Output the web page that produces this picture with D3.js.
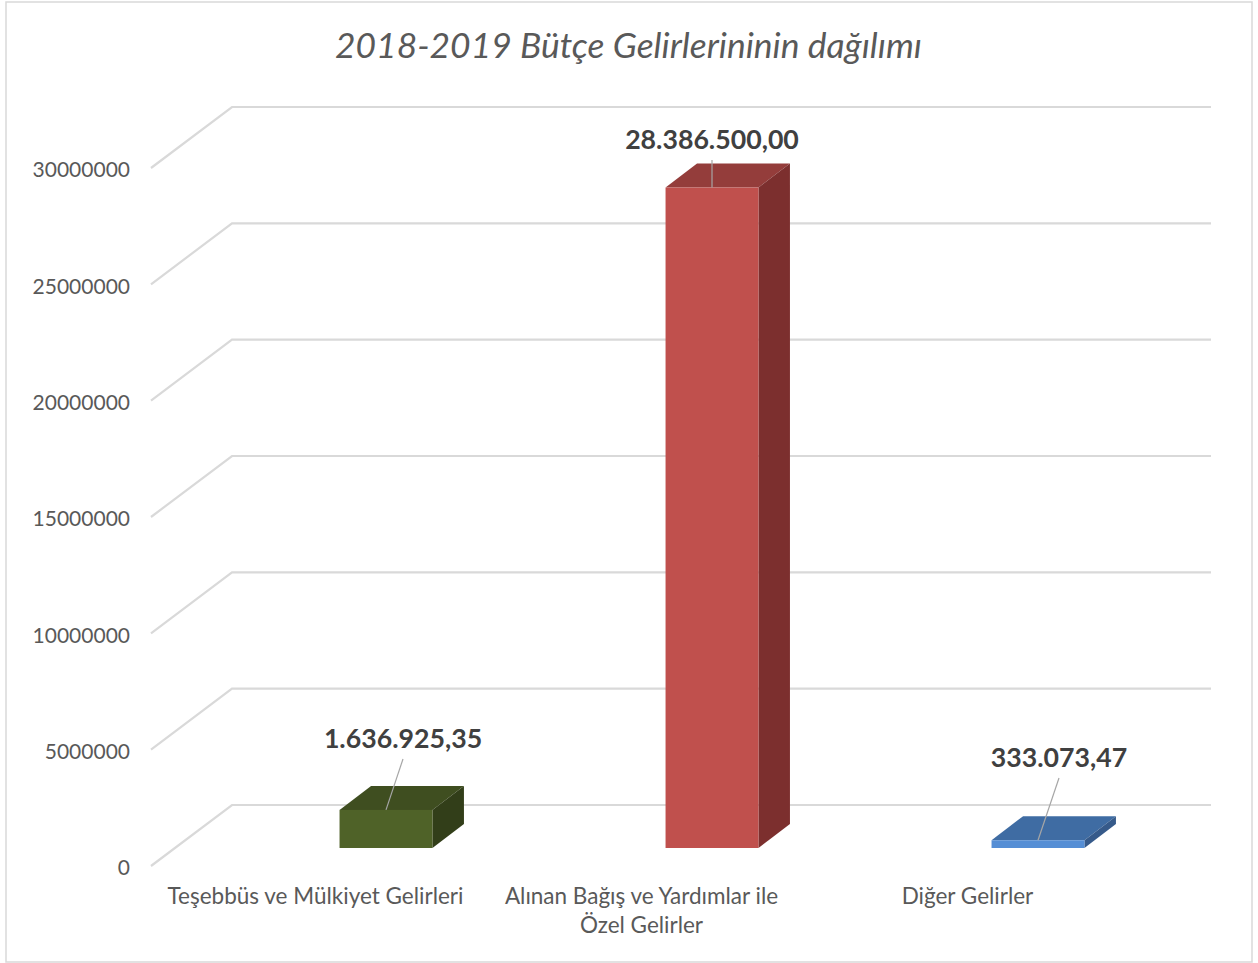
<!DOCTYPE html>
<html>
<head>
<meta charset="utf-8">
<script src="https://cdn.jsdelivr.net/npm/d3@7"></script>
<style>
  html, body { margin: 0; background: #fff; }
  svg { display: block; font-family: Lato, sans-serif; }
</style>
</head>
<body>
<svg id="chart" width="1258" height="963"></svg>
<script>
const title = "2018-2019 Bütçe Gelirlerininin dağılımı";
const categories = ["Teşebbüs ve Mülkiyet Gelirleri", "Alınan Bağış ve Yardımlar ile|Özel Gelirler", "Diğer Gelirler"];
const values = [1636925.35, 28386500, 333073.47];
const valueLabels = ["1.636.925,35", "28.386.500,00", "333.073,47"];
const yTicks = [0, 5000000, 10000000, 15000000, 20000000, 25000000, 30000000];
const frontColors = ["#4f6228", "#c0504d", "#558ed5"];
const topColors = ["#3f4e20", "#943d3b", "#3f6ca3"];
const sideColors = ["#323e19", "#7c2f2e", "#365a8a"];

const svg = d3.select("#chart");

// floor-to-back wall shift of the fake 3d box, and the bars' own depth
const wallDx = 81, wallDy = -61;
const barDx = 31.5, barDy = -24;
const barBase = 848;

let y = d3.scaleLinear().domain([0, 30000000]).range([866, 168]);
let barHeight = (v) => y(0) - y(v);

// the bars sit further back than the axis labels
let xLabels = d3.scaleBand().domain(categories).range([152.5, 1130.5]);
let xBars = d3.scaleBand().domain(categories).range([223, 1201]).paddingInner(0.715).paddingOuter(0.3575);

svg.append("rect")
  .attr("x", 6).attr("y", 2)
  .attr("width", 1246).attr("height", 960)
  .attr("fill", "#fff")
  .attr("stroke", "#d9d9d9")
  .attr("stroke-width", 1.5);

svg.append("text")
  .attr("x", 628.5).attr("y", 58)
  .attr("text-anchor", "middle")
  .attr("font-size", 35.4)
  .attr("font-style", "italic")
  .attr("fill", "#595959")
  .text(title);

svg.append("g")
  .attr("fill", "none")
  .attr("stroke", "#d9d9d9")
  .attr("stroke-width", 2.2)
  .selectAll("path")
  .data(yTicks)
  .join("path")
  .attr("d", (d) => {
    const p = d3.path();
    p.moveTo(151, y(d));
    p.lineTo(151 + wallDx, y(d) + wallDy);
    p.lineTo(1211, y(d) + wallDy);
    return p.toString();
  });

const yAxis = svg.append("g")
  .attr("transform", "translate(130,0)")
  .call(d3.axisLeft(y).tickValues(yTicks).tickFormat(d3.format("d")).tickSize(0).tickPadding(0));
yAxis.select(".domain").remove();
yAxis.selectAll("text")
  .attr("dy", "0.42em")
  .attr("font-family", "Lato, sans-serif")
  .attr("font-size", 21)
  .attr("fill", "#595959");

const bars = svg.append("g")
  .selectAll("g")
  .data(categories)
  .join("g");

bars.append("path")
  .attr("fill", (d, i) => topColors[i])
  .attr("d", (d, i) => {
    const x = xBars(d), w = xBars.bandwidth(), t = barBase - barHeight(values[i]);
    return `M${x},${t}l${barDx},${barDy}h${w}l${-barDx},${-barDy}Z`;
  });

bars.append("path")
  .attr("fill", (d, i) => sideColors[i])
  .attr("d", (d, i) => {
    const x = xBars(d) + xBars.bandwidth(), t = barBase - barHeight(values[i]);
    return `M${x},${t}l${barDx},${barDy}V${barBase + barDy}L${x},${barBase}Z`;
  });

bars.append("rect")
  .attr("x", (d) => xBars(d))
  .attr("y", (d, i) => barBase - barHeight(values[i]))
  .attr("width", xBars.bandwidth())
  .attr("height", (d, i) => barHeight(values[i]))
  .attr("fill", (d, i) => frontColors[i]);

// label positions relative to the bar's front top centre
const labelDx = [17, 0, 21];
const labelBaseline = [748, 149, 767];
const leaderEnd = [759, 160, 778];

bars.append("line")
  .attr("x1", (d) => xBars(d) + xBars.bandwidth() / 2)
  .attr("y1", (d, i) => barBase - barHeight(values[i]))
  .attr("x2", (d, i) => xBars(d) + xBars.bandwidth() / 2 + labelDx[i])
  .attr("y2", (d, i) => leaderEnd[i])
  .attr("stroke", "#a6a6a6")
  .attr("stroke-width", 1.2);

bars.append("text")
  .attr("x", (d, i) => xBars(d) + xBars.bandwidth() / 2 + labelDx[i])
  .attr("y", (d, i) => labelBaseline[i])
  .attr("text-anchor", "middle")
  .attr("font-size", 26.7)
  .attr("font-weight", 700)
  .attr("fill", "#404040")
  .text((d, i) => valueLabels[i]);

svg.append("g")
  .selectAll("text")
  .data(categories)
  .join("text")
  .attr("text-anchor", "middle")
  .attr("font-size", 22.5)
  .attr("fill", "#595959")
  .each(function (d) {
    d3.select(this)
      .selectAll("tspan")
      .data(d.split("|"))
      .join("tspan")
      .attr("x", xLabels(d) + xLabels.bandwidth() / 2)
      .attr("y", (s, i) => 904 + i * 29)
      .text((s) => s);
  });
</script>
</body>
</html>
